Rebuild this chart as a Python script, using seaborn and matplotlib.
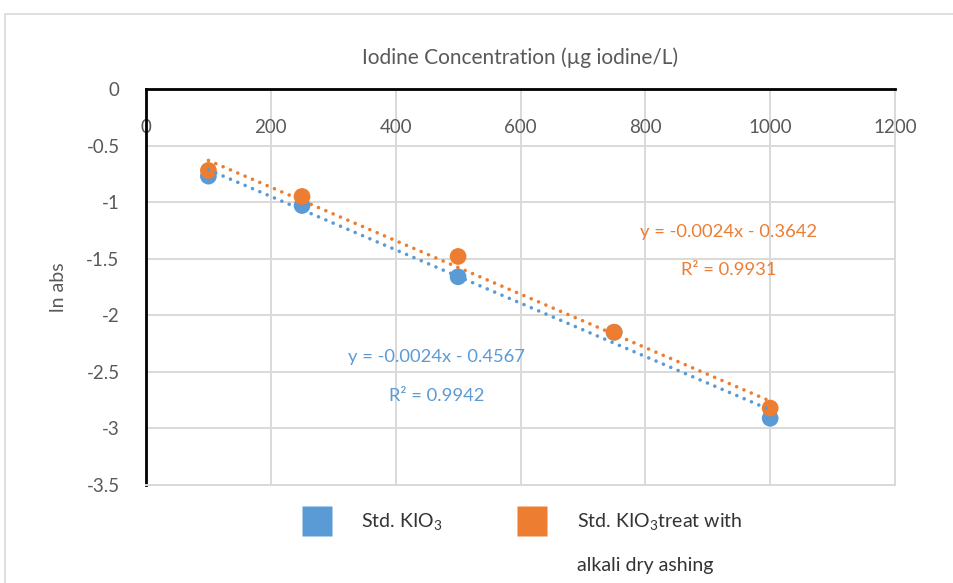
import numpy as np
import pandas as pd
import matplotlib
matplotlib.use("Agg")
import matplotlib.pyplot as plt
import seaborn as sns
from matplotlib.lines import Line2D
from matplotlib.patches import Rectangle

# ---- data ----
conc = [100, 250, 500, 750, 1000]
std_kio3 = [-0.77, -1.03, -1.66, -2.15, -2.91]
std_kio3_ashing = [-0.72, -0.95, -1.48, -2.15, -2.82]
series_names = ["Std. KIO$_3$", "Std. KIO$_3$treat with"]
series_extra_line = "alkali dry ashing"
eq_texts = ["y = -0.0024x - 0.4567", "y = -0.0024x - 0.3642"]
r2_texts = ["R² = 0.9942", "R² = 0.9931"]
x_ticks = [0, 200, 400, 600, 800, 1000, 1200]
y_ticks = [0, -0.5, -1, -1.5, -2, -2.5, -3, -3.5]
title = "Iodine Concentration (µg iodine/L)"
ylabel = "ln abs"

colors = ["#5B9BD5", "#ED7D31"]
txtgray = "#595959"
gridc = "#D9D9D9"

sns.set_theme(style="white")
plt.rcParams["font.family"] = ["Lato", "DejaVu Sans"]
plt.rcParams["mathtext.default"] = "regular"

df = pd.DataFrame({"x": conc * 2,
                   "y": std_kio3 + std_kio3_ashing,
                   "s": ["a"] * 5 + ["b"] * 5})

fig = plt.figure(figsize=(9.54, 5.83), dpi=100)
ax = fig.add_axes([146 / 954, 1 - 485 / 583, (895 - 146) / 954, (485 - 89) / 583])

# outer chart border
fig.patches.append(Rectangle((5 / 954, -0.1), 1.2, 1 - 14 / 583 + 0.1,
                             transform=fig.transFigure, fill=False,
                             edgecolor=gridc, linewidth=1.2))

sns.scatterplot(data=df, x="x", y="y", hue="s", palette=colors, s=145,
                edgecolor="none", legend=False, ax=ax, zorder=3)
for ys, c in zip([std_kio3, std_kio3_ashing], colors):
    sns.regplot(x=conc, y=ys, ci=None, scatter=False, truncate=True, ax=ax,
                line_kws=dict(color=c, linewidth=2.6,
                              linestyle=(0, (0.01, 2.2)),
                              dash_capstyle="round", zorder=4))

ax.set_xlim(0, 1200)
ax.set_ylim(-3.5, 0)
ax.set_xticks(x_ticks)
ax.set_yticks(y_ticks)
ax.set_yticklabels([f"{v:g}" for v in y_ticks])
ax.xaxis.tick_top()
ax.tick_params(axis="x", which="both", length=0, pad=-34, labelsize=13.5,
               labelcolor=txtgray)
ax.tick_params(axis="y", length=0, pad=19, labelsize=13.5, labelcolor=txtgray)
ax.grid(True, color=gridc, linewidth=1.4)
ax.set_axisbelow(True)
for side in ["left", "top"]:
    ax.spines[side].set_color("black")
    ax.spines[side].set_linewidth(2.0)
for side in ["right", "bottom"]:
    ax.spines[side].set_color(gridc)
    ax.spines[side].set_linewidth(1.4)
ax.set_xlabel("")
ax.set_ylabel(ylabel, fontsize=14, color=txtgray, labelpad=14)
ax.set_title(title, fontsize=15, color=txtgray, pad=18)

# trendline labels
ax.text(466, -2.37, eq_texts[0], color=colors[0], fontsize=13.2,
        ha="center", va="center", zorder=5)
ax.text(466, -2.71, r2_texts[0], color=colors[0], fontsize=13.2,
        ha="center", va="center", zorder=5)
ax.text(933, -1.26, eq_texts[1], color=colors[1], fontsize=13.2,
        ha="center", va="center", zorder=5)
ax.text(933, -1.60, r2_texts[1], color=colors[1], fontsize=13.2,
        ha="center", va="center", zorder=5)

handles = [Line2D([], [], marker="s", linestyle="none", markersize=22,
                  markerfacecolor=c, markeredgecolor="none") for c in colors]
leg = fig.legend(handles, series_names, loc="center left",
                 bbox_to_anchor=(302 / 954, 1 - 522 / 583), ncol=2,
                 frameon=False, fontsize=14, handlelength=1.5,
                 handletextpad=1.55, columnspacing=3.85, borderpad=0,
                 borderaxespad=0)
for t in leg.get_texts():
    t.set_color("#333333")

fig.canvas.draw()
t2 = leg.get_texts()[1]
bb = t2.get_window_extent()
inv = fig.transFigure.inverted()
x0, y0 = inv.transform((bb.x0, bb.y0))
fig.text(x0, y0 - 41 / 583, series_extra_line, fontsize=14, color="#333333",
         ha="left", va="bottom")

fig.savefig("out.png", dpi=100)
